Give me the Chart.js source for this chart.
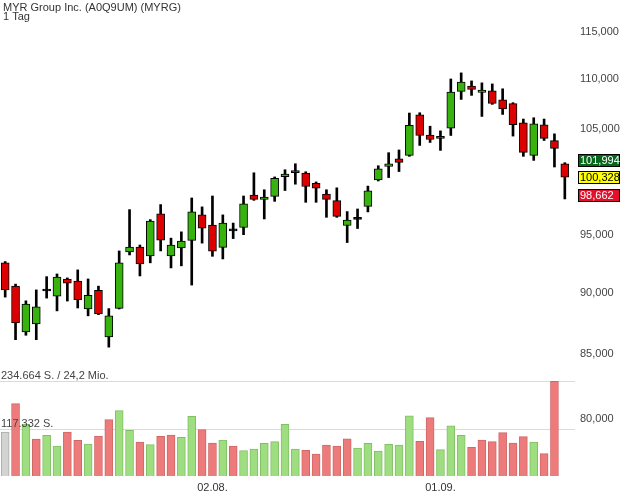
<!DOCTYPE html>
<html lang="de">
  <head>
    <meta charset="UTF-8" />
    <title>MYR Group Inc. (A0Q9UM) (MYRG)</title>
    <style>
      html,
      body {
        margin: 0;
        padding: 0;
        background: #fff;
      }
    </style>
  </head>
  <body>
    <canvas id="chart_id" width="620" height="496"></canvas>
    <script src="https://cdn.jsdelivr.net/npm/chart.js@4.4.0/dist/chart.umd.min.js"></script>
    <script>
      // one entry per trading day
      let dates = [
        "02.07.", "06.07.", "07.07.", "08.07.", "09.07.", "12.07.", "13.07.", "14.07.", "15.07.", "16.07.",
        "19.07.", "20.07.", "21.07.", "22.07.", "23.07.", "26.07.", "27.07.", "28.07.", "29.07.", "30.07.",
        "02.08.", "03.08.", "04.08.", "05.08.", "06.08.", "09.08.", "10.08.", "11.08.", "12.08.", "13.08.",
        "16.08.", "17.08.", "18.08.", "19.08.", "20.08.", "23.08.", "24.08.", "25.08.", "26.08.", "27.08.",
        "30.08.", "31.08.", "01.09.", "02.09.", "03.09.", "07.09.", "08.09.", "09.09.", "10.09.", "13.09.",
        "14.09.", "15.09.", "16.09.", "17.09.", "20.09."
      ];
      let open = [
        92.58, 90.58, 86.78, 87.43, 90.17, 89.73, 91.19, 91.02, 88.66, 90.23,
        86.36, 88.71, 93.53, 93.96, 93.18, 96.93, 93.18, 93.88, 94.55, 96.84,
        95.92, 93.93, 95.40, 95.70, 98.66, 98.26, 98.54, 100.38, 100.84, 100.71,
        99.76, 98.76, 98.14, 95.88, 96.43, 97.62, 100.07, 101.35, 102.06, 102.40,
        106.38, 104.36, 104.11, 105.04, 108.73, 109.27, 108.63, 108.80, 107.89, 107.49,
        105.57, 102.40, 105.37, 103.82, 101.60
      ];
      let high = [
        92.69, 90.75, 89.34, 90.26, 91.39, 91.62, 91.28, 91.97, 91.19, 90.58,
        88.69, 93.62, 97.32, 94.14, 96.41, 97.78, 94.75, 95.31, 98.39, 97.57,
        98.57, 96.84, 96.10, 98.57, 100.74, 99.15, 100.35, 101.03, 101.60, 100.84,
        99.88, 99.15, 99.33, 97.14, 97.38, 99.49, 101.41, 102.66, 102.92, 106.55,
        106.58, 105.24, 104.78, 110.01, 110.64, 109.81, 109.61, 109.50, 109.00, 107.59,
        105.95, 106.08, 105.95, 104.49, 101.70
      ];
      let low = [
        89.65, 86.14, 86.50, 86.14, 89.57, 88.50, 89.32, 88.74, 88.09, 88.19,
        85.54, 88.66, 93.27, 91.45, 92.58, 93.62, 92.14, 92.32, 90.67, 94.31,
        93.15, 92.92, 94.71, 95.06, 98.17, 96.47, 98.08, 99.08, 99.67, 97.99,
        97.99, 96.62, 96.62, 94.36, 95.61, 97.11, 99.97, 100.29, 100.86, 102.31,
        103.36, 103.65, 102.88, 104.33, 107.92, 108.33, 106.21, 107.42, 106.41, 104.27,
        102.31, 101.92, 103.84, 101.29, 98.30
      ];
      let close = [
        90.26, 87.51, 89.07, 88.83, 90.17, 91.36, 90.84, 89.43, 89.81, 88.25,
        88.09, 92.58, 93.96, 92.49, 96.29, 94.57, 94.14, 94.49, 97.11, 95.65,
        93.60, 96.10, 95.40, 97.84, 98.26, 98.48, 100.23, 100.61, 100.76, 99.45,
        99.30, 98.26, 96.71, 96.38, 96.43, 99.06, 101.12, 101.58, 101.73, 105.34,
        104.33, 103.94, 104.05, 108.67, 109.68, 108.93, 108.87, 107.52, 106.95, 105.40,
        102.69, 105.47, 104.04, 103.08, 100.33
      ];
      // shares; no volume yet for the last day
      let volume = [
        109000, 179200, 128100, 91700, 100900, 74300, 109000, 88400, 79300, 99100,
        139500, 161800, 113200, 84300, 77600, 98300, 101600, 95800, 147900, 114800,
        81800, 89200, 74300, 62700, 66900, 81000, 85000, 128100, 66900, 63700,
        54500, 76800, 74300, 92400, 69400, 81000, 62000, 78500, 76800, 149400,
        86000, 144500, 65200, 124600, 100900, 71100, 89200, 85000, 107300, 81800,
        97400, 84300, 55300, 234664, null
      ];
      let turnoverMio = 24.2;
      let priceTicks = [80, 85, 90, 95, 105, 110, 115];
      let dateTicks = ["02.08.", "01.09."];
      // marks on the right axis: high / last / low quote
      let quoteMarks = [101.994, 100.328, 98.662];

      let GREEN = "#37b20f";
      let RED = "#dc0000";
      let fmtPrice = (v) => v.toFixed(3).replace(".", ",");
      let fmtShares = (v) => String(v).replace(/\B(?=(\d{3})+(?!\d))/g, ".");

      let bodyColors = open.map((o, i) =>
        close[i] > o ? GREEN : close[i] < o ? RED : "#000"
      );
      let volFill = [], volBorder = [];
      volume.forEach((v, i) => {
        if (i === 0) {
          volFill.push("#d3d3d3");
          volBorder.push("#aaaaaa");
        } else if (close[i] >= close[i - 1]) {
          volFill.push("#9edd80");
          volBorder.push("#80bf64");
        } else {
          volFill.push("#ee7b7b");
          volBorder.push("#cf6767");
        }
      });
      let volMax = Math.max(...volume.filter((v) => v !== null));

      let overlay = {
        id: "overlay",
        beforeDatasetsDraw(chart) {
          let ctx = chart.ctx;
          let s = chart.scales.yVol;
          ctx.save();
          ctx.strokeStyle = "#dadada";
          ctx.lineWidth = 1;
          [volMax, volMax / 2].forEach((v) => {
            let y = Math.round(s.getPixelForValue(v)) + 0.5;
            ctx.beginPath();
            ctx.moveTo(0, y);
            ctx.lineTo(575, y);
            ctx.stroke();
          });
          ctx.restore();
        },
        afterDatasetsDraw(chart) {
          let ctx = chart.ctx;
          let s = chart.scales.yVol;
          ctx.save();
          ctx.font = "11px Arial, 'Liberation Sans', sans-serif";
          ctx.fillStyle = "#444";
          ctx.textBaseline = "alphabetic";
          ctx.fillText(
            fmtShares(volMax) + " S. / " + String(turnoverMio).replace(".", ",") + " Mio.",
            1,
            s.getPixelForValue(volMax) - 2
          );
          ctx.fillText(fmtShares(volMax / 2) + " S.", 1, s.getPixelForValue(volMax / 2) - 2);
          ctx.restore();
        },
        afterDraw(chart) {
          let ctx = chart.ctx;
          let y = chart.scales.y;
          ctx.save();
          ctx.font = "11px Arial, 'Liberation Sans', sans-serif";
          ctx.fillStyle = "#333";
          ctx.fillText("MYR Group Inc. (A0Q9UM) (MYRG)", 3, 11);
          ctx.fillText("1 Tag", 3, 20);

          let styles = [
            { bg: "#05671a", fg: "#fff" },
            { bg: "#ffff00", fg: "#000" },
            { bg: "#e2112b", fg: "#fff" },
          ];
          quoteMarks.forEach((v, i) => {
            let py = Math.round(y.getPixelForValue(v));
            ctx.fillStyle = styles[i].bg;
            ctx.fillRect(578, py - 6, 42, 13);
            ctx.strokeStyle = "#000";
            ctx.lineWidth = 1;
            ctx.strokeRect(578.5, py - 5.5, 41, 12);
            ctx.fillStyle = styles[i].fg;
            ctx.textBaseline = "middle";
            ctx.fillText(fmtPrice(v), 580, py + 1);
          });
          ctx.restore();
        },
      };

      Chart.defaults.font.family = "Arial, 'Liberation Sans', sans-serif";
      Chart.defaults.font.size = 11;
      Chart.defaults.color = "#444";

      let ctx = document.getElementById("chart_id").getContext("2d");
      let chart = new Chart(ctx, {
        type: "bar",
        data: {
          labels: dates,
          datasets: [
            {
              label: "Kerzen",
              data: dates.map((d, i) => [open[i], close[i]]),
              backgroundColor: bodyColors,
              borderColor: "#000",
              borderWidth: 1,
              borderSkipped: false,
              barThickness: 8,
              minBarLength: 2,
              yAxisID: "y",
              order: 1,
            },
            {
              label: "Docht",
              data: dates.map((d, i) => [low[i], high[i]]),
              backgroundColor: "#000",
              borderWidth: 0,
              barThickness: 2,
              yAxisID: "y",
              order: 2,
            },
            {
              label: "Volumen",
              data: volume,
              backgroundColor: volFill,
              borderColor: volBorder,
              borderWidth: 1,
              borderSkipped: "bottom",
              barThickness: 8,
              yAxisID: "yVol",
              order: 3,
            },
          ],
        },
        options: {
          responsive: false,
          animation: false,
          layout: { padding: 0 },
          datasets: { bar: { grouped: false } },
          plugins: {
            legend: { display: false },
            tooltip: { enabled: false },
          },
          scales: {
            x: {
              offset: true,
              grid: { display: false, drawTicks: false },
              border: { display: false },
              ticks: {
                autoSkip: false,
                maxRotation: 0,
                padding: 5,
                color: "#333",
                callback: function (v) {
                  let d = dates[v];
                  return dateTicks.includes(d) ? d : "";
                },
              },
              afterFit: function (s) {
                s.height = 20;
                s.paddingLeft = 0;
                s.paddingRight = 0;
              },
            },
            y: {
              type: "logarithmic",
              position: "right",
              min: 75.8,
              max: 118.47,
              grid: { display: false, drawTicks: false },
              border: { display: false },
              ticks: {
                padding: 10,
                callback: (v) => fmtPrice(v),
              },
              afterBuildTicks: function (s) {
                s.ticks = priceTicks.map((v) => ({ value: v }));
              },
              afterFit: function (s) {
                s.width = 50;
                s.paddingTop = 0;
                s.paddingBottom = 0;
              },
            },
            yVol: {
              type: "linear",
              display: false,
              min: 0,
              max: 1179500,
            },
          },
        },
        plugins: [overlay],
      });
    </script>
  </body>
</html>
